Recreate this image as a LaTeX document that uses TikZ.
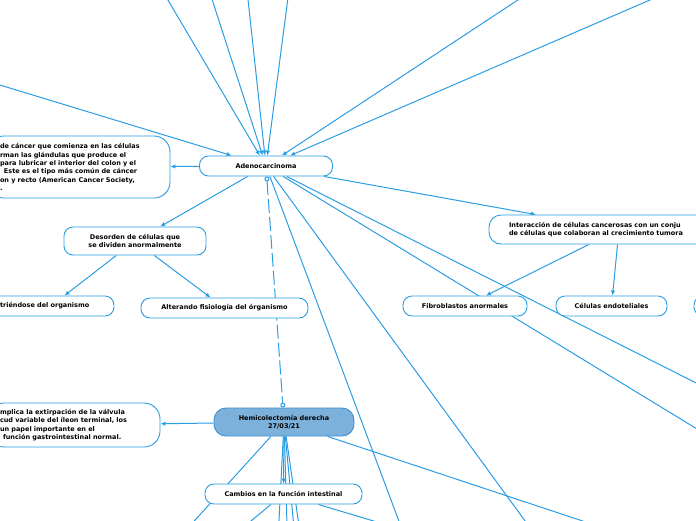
\documentclass[tikz,border=0pt]{standalone}
\usepackage{fontspec}
\setmainfont{DejaVu Sans}
\usepackage{tikz}
\usetikzlibrary{shapes,positioning,arrows.meta,backgrounds}
\definecolor{mapblue}{HTML}{2A9DE3}
\definecolor{hemifill}{HTML}{7CB1DB}
\definecolor{hemiline}{HTML}{3D8FD0}
\tikzset{bx/.style={rectangle,rounded corners=9pt,draw=mapblue,fill=white,line width=0.9pt,font=\bfseries\fontsize{6.5}{8.3}\selectfont,inner sep=0pt,align=center,minimum height=20pt}}
\tikzset{txt/.style={bx,rounded corners=16pt,align=left,inner xsep=12pt}}
\tikzset{lnk/.style={draw=mapblue,line width=1pt,-{Latex[length=5pt,width=4.5pt]}}}

\begin{document}
\begin{tikzpicture}[x=1pt,y=-1pt]
    \useasboundingbox (0,0) rectangle (696,520);
    \clip (0,0) rectangle (696,520);

    \node[bx,minimum width=133pt] (adeno) at (266,166) {Adenocarcinoma};
    \node[txt,text width=158pt,minimum height=62pt] (cancer) at (79,167) {de cáncer que comienza en las células\\rman las glándulas que produce el\\para lubricar el interior del colon y el\\\hspace*{4pt}Este es el tipo más común de cáncer\\on y recto (American Cancer Society,\\.};
    \node[bx,minimum width=142pt,minimum height=28pt] (desorden) at (135,241) {Desorden de células que\\se dividen anormalmente};
    \node[txt,text width=102pt,minimum height=20pt,rounded corners=9pt] (nutre) at (51,306) {triéndose del organismo};
    \node[bx,minimum width=167pt] (altera) at (224.5,308) {Alterando fisiología del órganismo};
    \node[txt,inner xsep=20pt,text width=220pt,minimum height=29pt,rounded corners=12pt] (interac) at (619,229.5) {Interacción de células cancerosas con un conju\\de células que colaboran al crecimiento tumora};
    \node[bx,minimum width=124pt] (fibro) at (465,306) {Fibroblastos anormales};
    \node[bx,minimum width=111pt] (endot) at (611.5,306) {Células endoteliales};
    \node[bx,minimum width=60pt] (otra) at (724,306) {};
    \node[bx,fill=hemifill,draw=hemiline,minimum width=140pt,minimum height=28pt,rounded corners=12pt] (hemi) at (284,422) {Hemicolectomía derecha\\27/03/21};
    \node[txt,text width=148pt,minimum height=44pt] (hemitxt) at (74,425) {mplica la extirpación de la válvula\\cud variable del íleon terminal, los\\un papel importante en el\\\hspace*{3pt}función gastrointestinal normal.};
    \node[bx,minimum width=157pt] (cambios) at (283.5,494) {Cambios en la función intestinal};

    % ramas fuera del cuadro
    \coordinate (tp1) at (-10,82);
    \coordinate (tp2) at (162,-10);
    \coordinate (tp3) at (209,-10);
    \coordinate (tp4) at (247,-10);
    \coordinate (tp5) at (289,-10);
    \coordinate (tp6) at (533,-10);
    \coordinate (tp7) at (673,-10);
    \coordinate (rt1) at (720,395);
    \coordinate (rt2) at (720,443);
    \coordinate (bt1) at (406,540);
    \coordinate (bt2) at (539,540);
    \coordinate (hb0) at (177,540);
    \coordinate (hb1) at (277,560);
    \coordinate (hb2) at (288,560);
    \coordinate (hb3) at (297,560);
    \coordinate (hb4) at (304,560);
    \coordinate (hb5) at (640,540);
    \coordinate (cb1) at (228,540);
    \coordinate (cb2) at (437,540);

    \begin{scope}[on background layer]
    \draw [lnk] (tp1) to [] (adeno);
    \draw [lnk] (tp2) to [] (adeno);
    \draw [lnk] (tp3) to [] (adeno);
    \draw [lnk] (tp4) to [] (adeno);
    \draw [lnk] (tp5) to [] (adeno);
    \draw [lnk] (tp6) to [] (adeno);
    \draw [lnk] (tp7) to [] (adeno);
    \draw [lnk] (adeno) to [] (cancer);
    \draw [lnk] (adeno) to [] (desorden);
    \draw [lnk] (adeno) to [] (interac);
    \draw [lnk] (adeno) to [] (rt1);
    \draw [lnk] (adeno) to [] (rt2);
    \draw [lnk] (adeno) to [] (bt1);
    \draw [lnk] (adeno) to [] (bt2);
    \draw [lnk] (desorden) to [] (nutre);
    \draw [lnk] (desorden) to [] (altera);
    \draw [lnk] (interac) to [] (fibro);
    \draw [lnk] (interac) to [] (endot);
    \draw [draw=mapblue,line width=1pt,dash pattern=on 14pt off 4pt,{Circle[open,length=5pt]}-{Circle[open,length=5pt]}] (adeno) to [] (hemi);
    \draw [lnk] (hemi) to [] (hemitxt);
    \draw [lnk] (hemi) to [] (cambios);
    \draw [lnk] (hemi) to [] (hb0);
    \draw [lnk] (hemi) to [] (hb1);
    \draw [lnk] (hemi) to [] (hb2);
    \draw [lnk] (hemi) to [] (hb3);
    \draw [lnk] (hemi) to [] (hb4);
    \draw [lnk] (hemi) to [] (hb5);
    \draw [lnk] (cambios) to [] (cb1);
    \draw [lnk] (cambios) to [] (cb2);
    \end{scope}
\end{tikzpicture}
\end{document}
